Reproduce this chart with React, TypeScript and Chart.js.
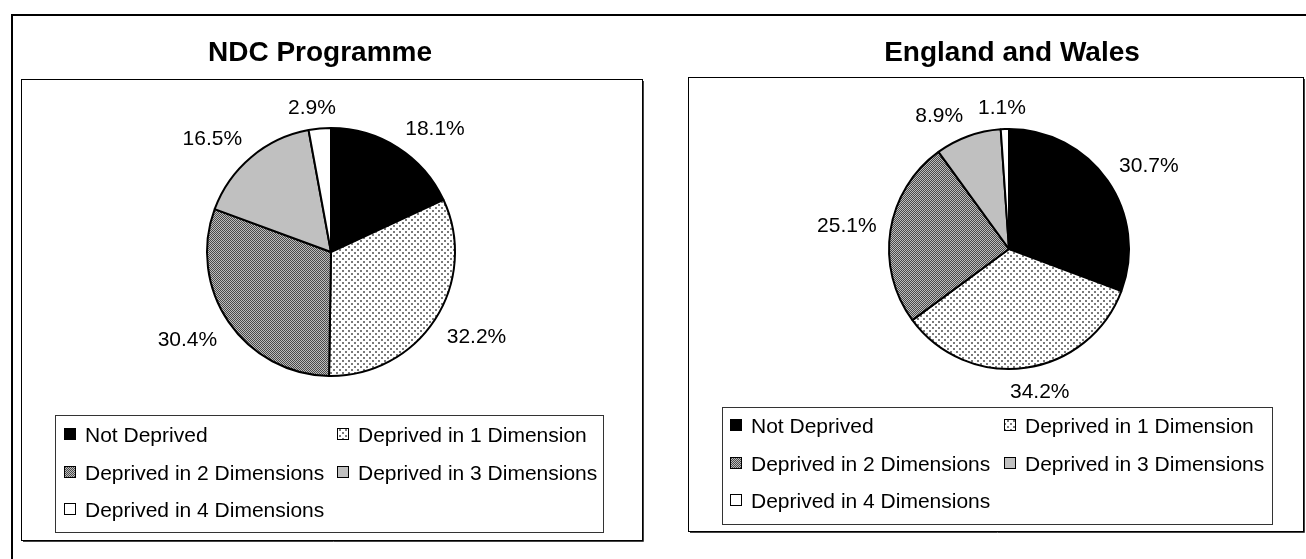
import React, { useEffect, useRef } from 'react';
import { Chart, registerables } from 'chart.js';

Chart.register(...registerables);

// ---------- data ----------
const categories = [
  'Not Deprived',
  'Deprived in 1 Dimension',
  'Deprived in 2 Dimensions',
  'Deprived in 3 Dimensions',
  'Deprived in 4 Dimensions',
];
const ndcValues = [18.1, 32.2, 30.4, 16.5, 2.9];
const englandWalesValues = [30.7, 34.2, 25.1, 8.9, 1.1];
const panelTitles = ['NDC Programme', 'England and Wales'];

const FONT = '"Liberation Sans", Arial, Helvetica, sans-serif';
const H = 559;

function makeDots(ctx: CanvasRenderingContext2D): CanvasPattern | string {
  const t = document.createElement('canvas');
  t.width = 6;
  t.height = 6;
  const c = t.getContext('2d')!;
  c.fillStyle = '#ffffff';
  c.fillRect(0, 0, 6, 6);
  c.fillStyle = '#7a7a7a';
  c.fillRect(0, 0, 2, 2);
  c.fillRect(3, 3, 2, 2);
  return ctx.createPattern(t, 'repeat') || '#dddddd';
}

function makeChecker(ctx: CanvasRenderingContext2D): CanvasPattern | string {
  const t = document.createElement('canvas');
  t.width = 2;
  t.height = 2;
  const c = t.getContext('2d')!;
  c.fillStyle = '#bdbdbd';
  c.fillRect(0, 0, 2, 2);
  c.fillStyle = '#4a4a4a';
  c.fillRect(0, 0, 1, 1);
  c.fillRect(1, 1, 1, 1);
  return ctx.createPattern(t, 'repeat') || '#808080';
}

type Layout = {
  left: number;
  width: number;
  cx: number;
  cy: number;
  r: number;
  box: { x1: number; y1: number; x2: number; y2: number };
  titleX: number;
  titleY: number;
  legend: { x: number; y: number; w: number; h: number; cols: number[]; row0: number; rowGap: number };
};

const leftLayout: Layout = {
  left: 0,
  width: 665,
  cx: 331,
  cy: 252,
  r: 124,
  box: { x1: 21, y1: 79, x2: 642, y2: 540 },
  titleX: 320,
  titleY: 61,
  legend: { x: 55, y: 415, w: 548, h: 117, cols: [64, 337], row0: 434, rowGap: 37.5 },
};

const rightLayout: Layout = {
  left: 665,
  width: 641,
  cx: 344,
  cy: 249,
  r: 120,
  box: { x1: 23, y1: 77, x2: 638, y2: 531 },
  titleX: 347,
  titleY: 61,
  legend: { x: 57, y: 407, w: 550, h: 117, cols: [65, 339], row0: 425, rowGap: 37.5 },
};

const clamp1 = (v: number) => Math.max(-1, Math.min(1, v));

function PiePanel({ title, values, layout }: { title: string; values: number[]; layout: Layout }) {
  const ref = useRef<HTMLCanvasElement>(null);

  useEffect(() => {
    const canvas = ref.current!;
    const ctx = canvas.getContext('2d')!;
    const fills = ['#000000', makeDots(ctx), makeChecker(ctx), '#c0c0c0', '#ffffff'];
    const L = layout;
    const edge = L.r + 1;

    const framePlugin = {
      id: 'panelFrame',
      beforeDraw(chart: any) {
        const c = chart.ctx as CanvasRenderingContext2D;
        const b = L.box;
        c.save();
        c.fillStyle = '#ffffff';
        c.fillRect(b.x1, b.y1, b.x2 - b.x1, b.y2 - b.y1);
        c.strokeStyle = '#000000';
        c.lineWidth = 1;
        c.strokeRect(b.x1 + 0.5, b.y1 + 0.5, b.x2 - b.x1, b.y2 - b.y1);
        c.strokeStyle = '#444444';
        c.beginPath();
        c.moveTo(b.x2 + 1.5, b.y1 + 2);
        c.lineTo(b.x2 + 1.5, b.y2 + 1.5);
        c.lineTo(b.x1 + 2, b.y2 + 1.5);
        c.stroke();
        c.restore();
      },
      afterDraw(chart: any) {
        const c = chart.ctx as CanvasRenderingContext2D;
        c.save();
        c.fillStyle = '#000000';
        c.font = `bold 28px ${FONT}`;
        c.textAlign = 'center';
        c.textBaseline = 'alphabetic';
        c.fillText(title, L.titleX, L.titleY);

        // legend
        const lg = L.legend;
        const labels = chart.data.labels as string[];
        const bg = chart.data.datasets[0].backgroundColor as any[];
        c.fillStyle = '#ffffff';
        c.fillRect(lg.x, lg.y, lg.w, lg.h);
        c.strokeStyle = '#333333';
        c.lineWidth = 1;
        c.strokeRect(lg.x + 0.5, lg.y + 0.5, lg.w, lg.h);
        c.font = `21px ${FONT}`;
        c.textAlign = 'left';
        c.textBaseline = 'alphabetic';
        labels.forEach((lab, i) => {
          const col = i % 2;
          const row = Math.floor(i / 2);
          const mx = lg.cols[col];
          const my = Math.round(lg.row0 + row * lg.rowGap);
          c.fillStyle = bg[i];
          c.fillRect(mx, my - 6, 12, 12);
          c.strokeStyle = '#000000';
          c.strokeRect(mx + 0.5, my - 5.5, 11, 11);
          c.fillStyle = '#000000';
          c.fillText(lab, mx + 21, my + 7.5);
        });
        c.restore();
      },
    };

    const labelPlugin = {
      id: 'pctLabels',
      afterDatasetsDraw(chart: any) {
        const c = chart.ctx as CanvasRenderingContext2D;
        const meta = chart.getDatasetMeta(0);
        const data = chart.data.datasets[0].data as number[];
        c.save();
        c.font = `21px ${FONT}`;
        c.fillStyle = '#000000';
        c.textAlign = 'center';
        c.textBaseline = 'alphabetic';
        const gap = 14;
        const hh = 8.5;
        meta.data.forEach((el: any, i: number) => {
          const p = el.getProps(['x', 'y', 'startAngle', 'endAngle', 'outerRadius'], true);
          const mid = (p.startAngle + p.endAngle) / 2;
          const dx = Math.cos(mid);
          const dy = Math.sin(mid);
          const text = data[i].toFixed(1) + '%';
          const hw = c.measureText(text).width / 2;
          const ax = p.x + dx * (p.outerRadius + gap);
          const ay = p.y + dy * (p.outerRadius + gap);
          const tx = ax + hw * clamp1(dx * 3);
          const ty = ay + hh * clamp1(dy * 3);
          c.fillText(text, tx, ty + 7.5);
        });
        c.restore();
      },
    };

    const chart = new Chart(canvas, {
      type: 'pie',
      data: {
        labels: categories,
        datasets: [
          {
            data: values,
            backgroundColor: fills as any,
            borderColor: '#000000',
            borderWidth: 2,
          },
        ],
      },
      options: {
        responsive: false,
        maintainAspectRatio: false,
        animation: false,
        devicePixelRatio: 1,
        layout: {
          padding: {
            left: L.cx - edge,
            right: L.width - (L.cx + edge),
            top: L.cy - edge,
            bottom: H - (L.cy + edge),
          },
        },
        plugins: {
          legend: { display: false },
          title: { display: false },
          tooltip: { enabled: false },
        },
      },
      plugins: [framePlugin, labelPlugin],
    });
    return () => chart.destroy();
  }, [title, values, layout]);

  return (
    <canvas
      ref={ref}
      width={layout.width}
      height={H}
      style={{ position: 'absolute', left: layout.left, top: 0, width: layout.width, height: H }}
    />
  );
}

export default function App() {
  return (
    <div
      style={{
        position: 'absolute',
        left: 0,
        top: 0,
        width: 1306,
        height: H,
        overflow: 'hidden',
        background: '#ffffff',
      }}
    >
      <div
        style={{
          position: 'absolute',
          left: 11,
          top: 14,
          width: 1400,
          height: 700,
          borderTop: '2px solid #000',
          borderLeft: '2px solid #000',
        }}
      />
      <PiePanel title={panelTitles[0]} values={ndcValues} layout={leftLayout} />
      <PiePanel title={panelTitles[1]} values={englandWalesValues} layout={rightLayout} />
    </div>
  );
}
